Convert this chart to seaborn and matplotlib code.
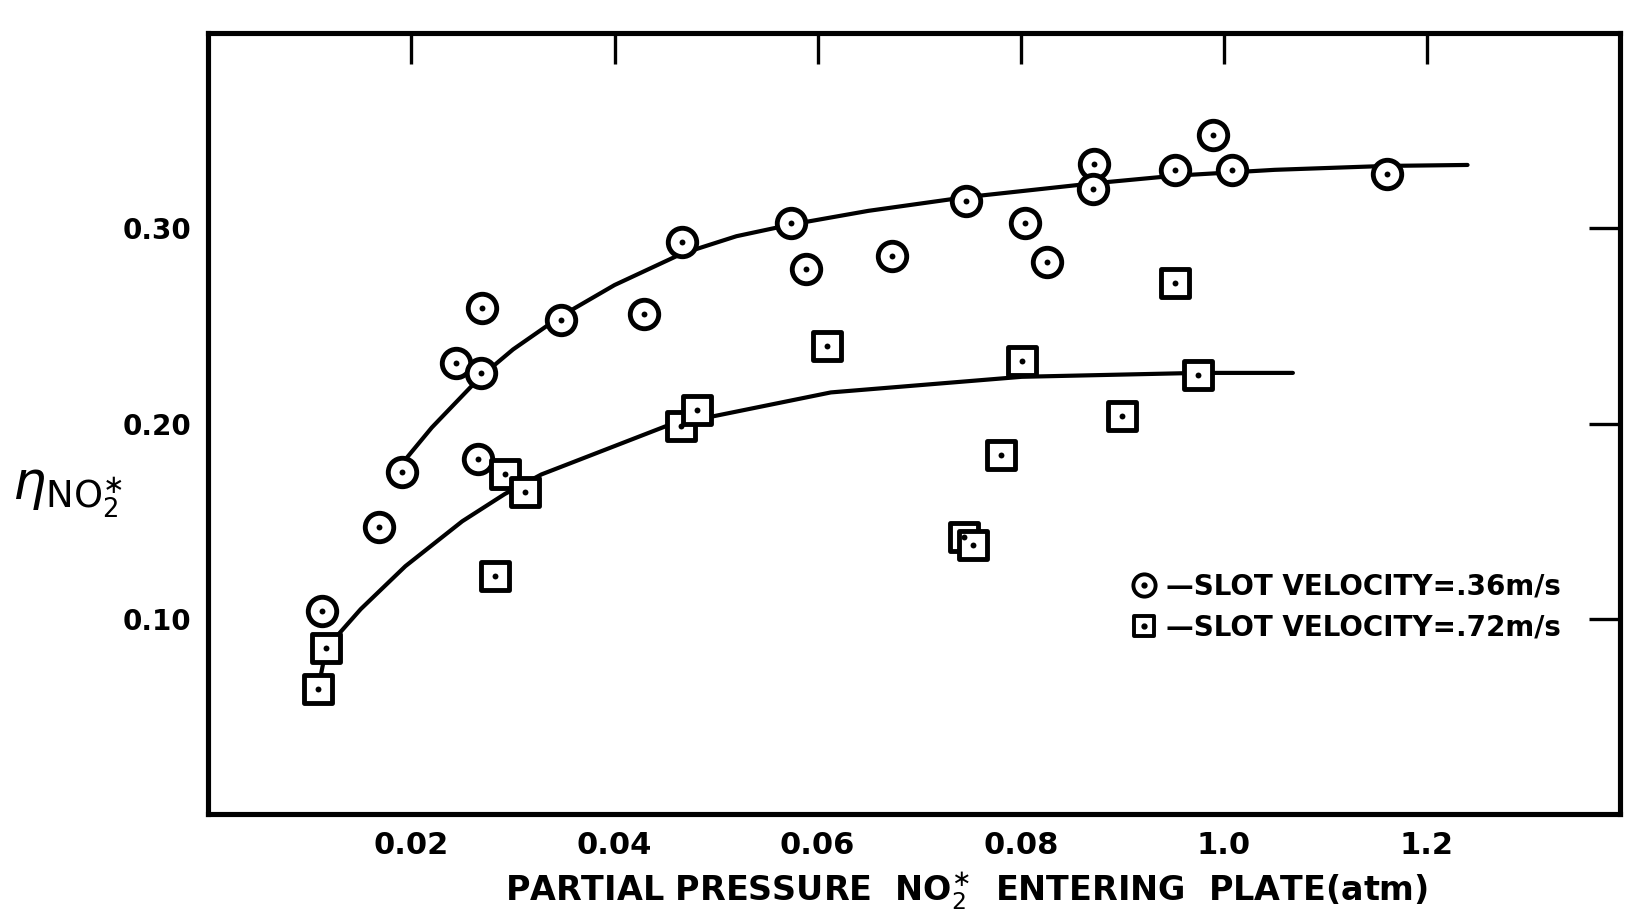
import matplotlib
matplotlib.use("Agg")
import matplotlib.pyplot as plt
import seaborn as sns
from matplotlib.lines import Line2D
from matplotlib.markers import MarkerStyle

# slot velocity 0.36 m/s (circles)
slow_p = [0.0112, 0.0168, 0.0191, 0.0244, 0.0269, 0.0268, 0.0266, 0.0347,
          0.0429, 0.0466, 0.0574, 0.0589, 0.0673, 0.0746, 0.0804, 0.0826,
          0.0872, 0.0871, 0.0952, 0.0989, 0.1008, 0.1161]
slow_eta = [0.104, 0.147, 0.175, 0.231, 0.259, 0.226, 0.182, 0.253,
            0.256, 0.293, 0.303, 0.279, 0.286, 0.314, 0.303, 0.283,
            0.333, 0.320, 0.330, 0.348, 0.330, 0.328]

# slot velocity 0.72 m/s (squares)
fast_p = [0.0108, 0.0116, 0.0282, 0.0292, 0.0312, 0.0465, 0.0481, 0.0609,
          0.0744, 0.0753, 0.0781, 0.0801, 0.0900, 0.0952, 0.0975]
fast_eta = [0.064, 0.085, 0.122, 0.174, 0.165, 0.199, 0.207, 0.240,
            0.142, 0.138, 0.184, 0.232, 0.204, 0.272, 0.225]

# hand drawn curves
slow_fit_p = [0.0185, 0.022, 0.0268, 0.030, 0.0347, 0.040, 0.0466, 0.052,
              0.0574, 0.065, 0.0746, 0.087, 0.0952, 0.105, 0.116, 0.124]
slow_fit_eta = [0.176, 0.198, 0.224, 0.238, 0.255, 0.271, 0.287, 0.296,
                0.302, 0.309, 0.316, 0.323, 0.327, 0.330, 0.332, 0.3325]
fast_fit_p = [0.0108, 0.0116, 0.0150, 0.0194, 0.025, 0.0292, 0.0328, 0.0452,
              0.0613, 0.0801, 0.0975, 0.1068]
fast_fit_eta = [0.064, 0.085, 0.105, 0.127, 0.150, 0.164, 0.174, 0.199,
                0.216, 0.224, 0.226, 0.226]

x_ticks = [0.02, 0.04, 0.06, 0.08, 0.10, 0.12]
x_tick_labels = ["0.02", "0.04", "0.06", "0.08", "1.0", "1.2"]
y_ticks = [0.10, 0.20, 0.30]
y_tick_labels = ["0.10", "0.20", "0.30"]

sns.set_style("white")
plt.rcParams["font.family"] = ["DejaVu Sans"]
plt.rcParams["text.color"] = "black"
plt.rcParams["axes.labelcolor"] = "black"
plt.rcParams["xtick.color"] = "black"
plt.rcParams["ytick.color"] = "black"

fig = plt.figure(figsize=(16.28, 9.21), dpi=100)
ax = fig.add_axes([0.128, 0.116, 0.867, 0.848])

for px, py in [(slow_fit_p, slow_fit_eta), (fast_fit_p, fast_fit_eta)]:
    sns.lineplot(x=px, y=py, ax=ax, color="black", linewidth=3.0,
                 sort=False, estimator=None, zorder=1)

square = MarkerStyle("s", joinstyle="round")

sns.scatterplot(x=slow_p, y=slow_eta, ax=ax, marker="o", s=420,
                color="white", edgecolor="black", linewidth=3.5, zorder=3)
sns.scatterplot(x=fast_p, y=fast_eta, ax=ax, marker=square, s=380,
                color="white", edgecolor="black", linewidth=3.5, zorder=3)
sns.scatterplot(x=slow_p + fast_p, y=slow_eta + fast_eta, ax=ax, marker="o",
                s=18, color="black", edgecolor="black", linewidth=0, zorder=4)

ax.set_xlim(0, 0.139)
ax.set_ylim(0, 0.40)
ax.set_xticks(x_ticks)
ax.set_xticklabels(x_tick_labels, fontsize=22, fontweight="bold")
ax.set_yticks(y_ticks)
ax.set_yticklabels(y_tick_labels, fontsize=20, fontweight="bold")
ax.tick_params(direction="in", length=22, width=2.4, top=True, right=True,
               pad=12, color="black", labelcolor="black")

for side in ax.spines.values():
    side.set_visible(True)
    side.set_linewidth(3.7)
    side.set_color("black")

ax.set_xlabel(r"PARTIAL PRESSURE  NO$_2^{\ast}$  ENTERING  PLATE(atm)",
              fontsize=24, fontweight="bold", color="black")
ax.xaxis.set_label_coords(0.537, -0.072)
ax.set_ylabel(r"$\eta_{\mathrm{NO}_2^{\ast}}$", fontsize=38, rotation=0,
              ha="center", va="center", color="black")
ax.yaxis.set_label_coords(-0.10, 0.41)

circle_handle = (
    Line2D([], [], marker="o", ms=16, mfc="white", mec="black", mew=2.8, ls=""),
    Line2D([], [], marker="o", ms=3.5, color="black", ls=""),
)
square_handle = (
    Line2D([], [], marker=square, ms=15, mfc="white", mec="black", mew=2.8, ls=""),
    Line2D([], [], marker="o", ms=3.5, color="black", ls=""),
)
leg = ax.legend([circle_handle, square_handle],
                ["\u2014SLOT VELOCITY=.36m/s", "\u2014SLOT VELOCITY=.72m/s"],
                loc="center left", bbox_to_anchor=(0.635, 0.265),
                frameon=False, handlelength=1.0, handletextpad=0.3,
                labelspacing=0.45, prop={"size": 20, "weight": "bold"})
for txt in leg.get_texts():
    txt.set_color("black")

fig.savefig("out.png", dpi=100, facecolor="white")
